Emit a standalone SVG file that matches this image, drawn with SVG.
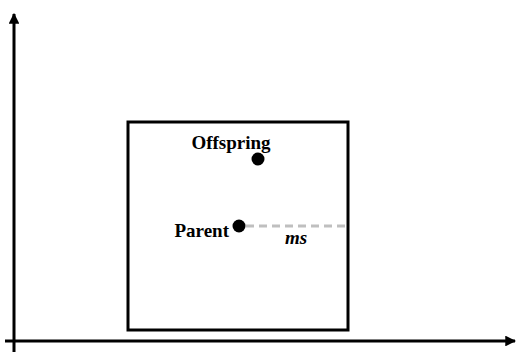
<svg xmlns="http://www.w3.org/2000/svg" width="523" height="352" viewBox="0 0 523 352">
  <defs>
    <marker id="arrow" viewBox="0 0 10 10" refX="9" refY="5" markerWidth="3.6" markerHeight="3.6" orient="auto" markerUnits="strokeWidth">
      <path d="M0,0 L10,5 L0,10 z" fill="#000"/>
    </marker>
  </defs>
  <style>
    .axis { stroke: #000; stroke-width: 3; fill: none; }
    .box { stroke: #000; stroke-width: 3; fill: #fff; }
    .dot { fill: #000; }
    .label { font-family: "Liberation Serif", "Times New Roman", serif; font-weight: bold; font-size: 19px; fill: #000; }
    .dist { stroke: #bfbfbf; stroke-width: 3; stroke-dasharray: 8 5; fill: none; }
  </style>
  <g id="axes">
    <line class="axis" x1="14" y1="352" x2="14" y2="14" marker-end="url(#arrow)"/>
    <line class="axis" x1="5" y1="341" x2="515" y2="341" marker-end="url(#arrow)"/>
  </g>
  <g id="region">
    <rect class="box" x="128" y="122" width="220" height="208"/>
  </g>
  <g id="connectors">
    <line class="dist" x1="246" y1="226" x2="348" y2="226"/>
  </g>
  <g id="offspring">
    <circle class="dot" cx="258" cy="159" r="6.5"/>
    <text class="label" x="231" y="149" text-anchor="middle">Offspring</text>
  </g>
  <g id="parent">
    <circle class="dot" cx="239" cy="226" r="6.5"/>
    <text class="label" x="229" y="237" text-anchor="end">Parent</text>
  </g>
  <g id="ms-label">
    <text class="label" x="296" y="244" text-anchor="middle" font-style="italic" font-size="17">ms</text>
  </g>
</svg>
